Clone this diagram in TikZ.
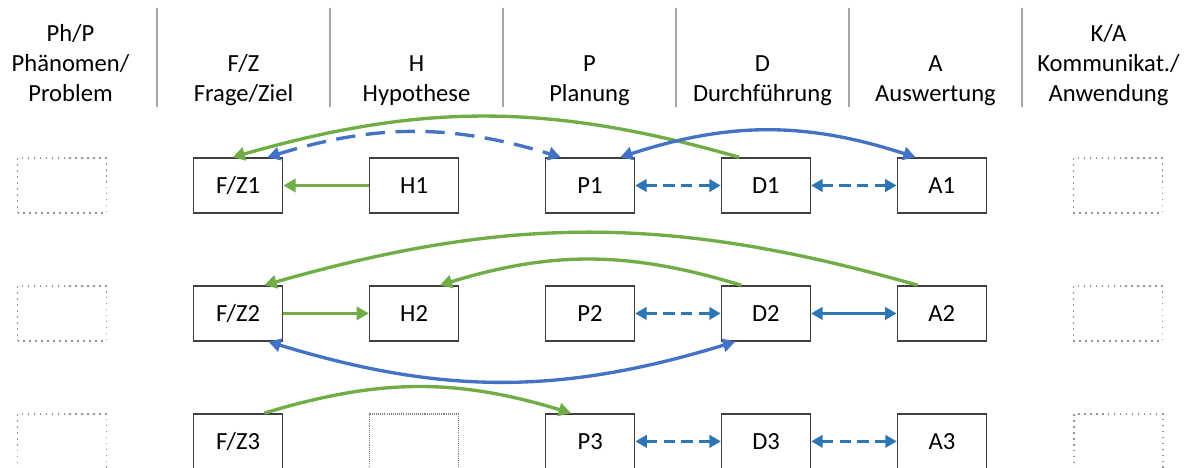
\documentclass[tikz,border=0pt]{standalone}
\usepackage{fontspec}
\setmainfont{Carlito}
\usetikzlibrary{arrows.meta,positioning}

\definecolor{lgreen}{HTML}{70AD47}
\definecolor{lblue}{HTML}{4472C4}
\definecolor{sblue}{HTML}{2E75B6}
\definecolor{rulegray}{HTML}{A6A6A6}
\definecolor{framegray}{HTML}{3F3F3F}

\begin{document}
\begin{tikzpicture}[font=\fontsize{14}{17}\selectfont,
    stage/.style={draw=framegray, line width=0.8pt, minimum width=1.78cm, minimum height=1.10cm, inner sep=0pt},
    openstage/.style={draw=gray!85, line width=1.1pt, dash pattern=on 1pt off 2.4pt, minimum width=1.78cm, minimum height=1.10cm, inner sep=0pt},
    head/.style={align=center, anchor=south, text depth=0pt, inner sep=0pt},
    greenarc/.style={-{Triangle[length=7pt,width=7.5pt]}, draw=lgreen, line width=1.9pt},
    bluearc/.style={{Triangle[length=7pt,width=7.5pt]}-{Triangle[length=7pt,width=7.5pt]}, draw=lblue, line width=1.9pt},
    pairarrow/.style={{Triangle[length=6.5pt,width=7pt]}-{Triangle[length=6.5pt,width=7pt]}, draw=sblue, line width=1.8pt},
    dashline/.style={dash pattern=on 6.5pt off 3.5pt}]
  \useasboundingbox (0,0) rectangle (23.84,-9.36);

  % column heads
  \node[head] (hph) at (1.41,-2.04) {Ph/P\\Phänomen/\\Problem};
  \node[head] (hfz) at (4.87,-2.04) {F/Z\\Frage/Ziel};
  \node[head] (hh) at (8.33,-2.04) {H\\Hypothese};
  \node[head] (hp) at (11.79,-2.04) {P\\Planung};
  \node[head] (hd) at (15.25,-2.04) {D\\Durchführung};
  \node[head] (ha) at (18.71,-2.04) {A\\Auswertung};
  \node[head] (hka) at (22.17,-2.04) {K/A\\Kommunikat./\\Anwendung};
  \draw[rulegray, line width=1.1pt]
    (3.14,-0.16) -- (3.14,-2.14) (6.60,-0.16) -- (6.60,-2.14)
    (10.06,-0.16) -- (10.06,-2.14) (13.52,-0.16) -- (13.52,-2.14)
    (16.98,-0.16) -- (16.98,-2.14) (20.44,-0.16) -- (20.44,-2.14);

  % first pass
  \node[openstage] (ph1) at (1.24,-3.71) {};
  \node[stage, right=1.71cm of ph1] (fz1) {F/Z1};
  \node[stage, right=1.71cm of fz1] (h1) {H1};
  \node[stage, right=1.71cm of h1] (p1) {P1};
  \node[stage, right=1.71cm of p1] (d1) {D1};
  \node[stage, right=1.71cm of d1] (a1) {A1};
  \node[openstage, right=1.71cm of a1] (ka1) {};

  % second pass
  \node[openstage, below=1.42cm of ph1] (ph2) {};
  \node[stage, right=1.71cm of ph2] (fz2) {F/Z2};
  \node[stage, right=1.71cm of fz2] (h2) {H2};
  \node[stage, right=1.71cm of h2] (p2) {P2};
  \node[stage, right=1.71cm of p2] (d2) {D2};
  \node[stage, right=1.71cm of d2] (a2) {A2};
  \node[openstage, right=1.71cm of a2] (ka2) {};

  % third pass, no hypothesis
  \node[openstage, below=1.42cm of ph2] (ph3) {};
  \node[stage, right=1.71cm of ph3] (fz3) {F/Z3};
  \node[openstage, right=1.71cm of fz3, draw=gray, line width=0.9pt, dash pattern=on 0.6pt off 0.6pt] (h3) {};
  \node[stage, right=1.71cm of h3] (p3) {P3};
  \node[stage, right=1.71cm of p3] (d3) {D3};
  \node[stage, right=1.71cm of d3] (a3) {A3};
  \node[openstage, right=1.71cm of a3] (ka3) {};

  % connectors, first pass
  \draw[greenarc] (h1) -- (fz1);
  \draw[greenarc] ([xshift=0.37cm]d1.north west) to[bend right=16] ([xshift=-0.11cm]fz1.north);
  \draw[bluearc, dash pattern=on 11pt off 6pt] ([xshift=-0.32cm]fz1.north east) to[bend left=17] ([xshift=0.32cm]p1.north west);
  \draw[bluearc] ([xshift=-0.30cm]p1.north east) to[bend left=18] ([xshift=0.38cm]a1.north west);
  \draw[pairarrow, dashline] (p1) -- (d1);
  \draw[pairarrow, dashline] (d1) -- (a1);

  % connectors, second pass
  \draw[greenarc] (fz2) -- (h2);
  \draw[greenarc] ([xshift=0.42cm]a2.north west) to[bend right=16] ([xshift=-0.38cm]fz2.north east);
  \draw[greenarc] ([xshift=0.41cm]d2.north west) to[bend right=17] ([xshift=-0.39cm]h2.north east);
  \draw[bluearc] ([xshift=-0.30cm]fz2.south east) to[bend right=17] ([xshift=0.29cm]d2.south west);
  \draw[pairarrow, dashline] (p2) -- (d2);
  \draw[pairarrow] (d2) -- (a2);

  % connectors, third pass
  \draw[greenarc] ([xshift=-0.38cm]fz3.north east) to[bend left=17] ([xshift=0.52cm]p3.north west);
  \draw[pairarrow, dashline] (p3) -- (d3);
  \draw[pairarrow, dashline] (d3) -- (a3);
\end{tikzpicture}
\end{document}
